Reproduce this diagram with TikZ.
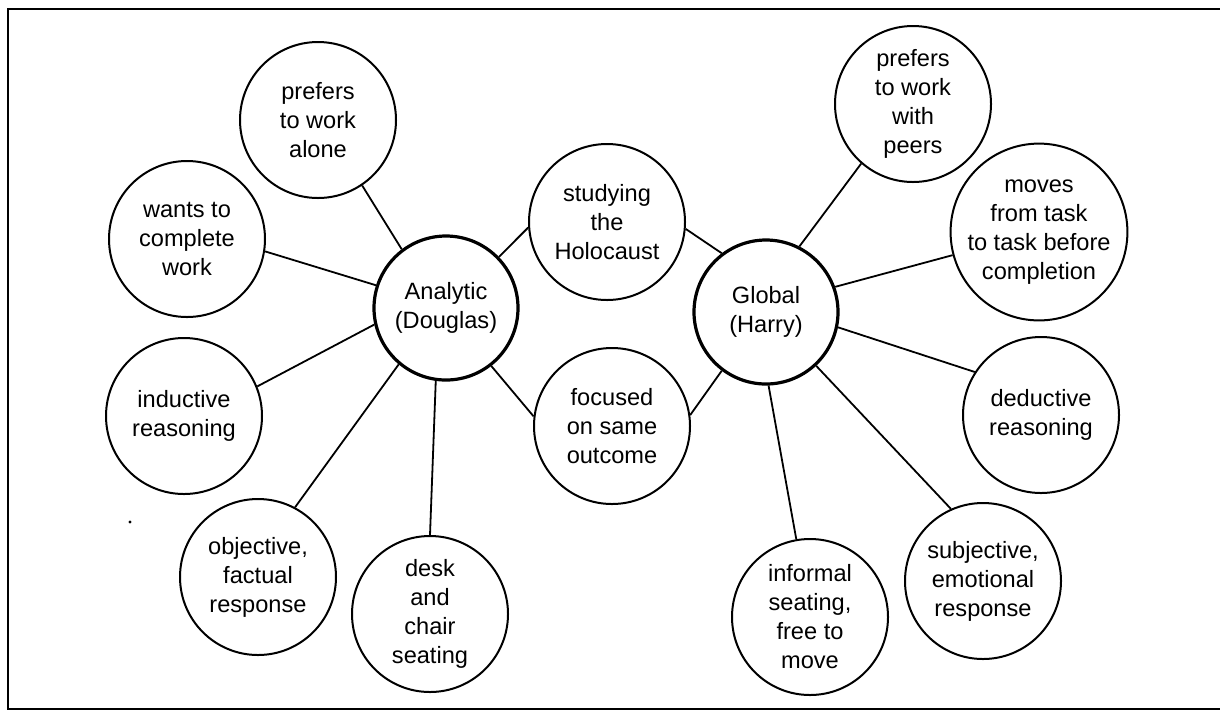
\documentclass[tikz,border=0pt]{standalone}
\usepackage{fontspec}
\setmainfont{Liberation Sans}
\begin{document}
\begin{tikzpicture}[x=0.5pt,y=-0.5pt,
  sat/.style={circle, draw, line width=1pt, minimum size=78pt, inner sep=0pt, align=center,
    font=\fontsize{11.8}{14.5}\selectfont},
  hub/.style={sat, line width=1.6pt, minimum size=72pt},
  link/.style={line width=0.9pt},
  frame/.style={line width=1.4pt}]
\useasboundingbox (0,0) rectangle (1220,714);
\draw[frame] (1220,9) -- (8,9) -- (8,709) -- (1220,709);
\node[hub] (A) at (446,308) {Analytic\\(Douglas)};
\node[hub] (G) at (766,312) {Global\\(Harry)};
\node[sat] (alone) at (318,120) {prefers\\to work\\alone};
\node[sat] (complete) at (187,239) {wants to\\complete\\work};
\node[sat] (induct) at (184,416) {inductive\\reasoning};
\node[sat] (object) at (258,577) {objective,\\factual\\response};
\node[sat] (desk) at (430,614) {desk\\and\\chair\\seating};
\node[sat] (study) at (607,222) {studying\\the\\Holocaust};
\node[sat] (focus) at (612,426) {focused\\on same\\outcome};
\node[sat] (peers) at (913,104) {prefers\\to work\\with\\peers};
\node[sat, minimum size=86pt] (moves) at (1039,232) {moves\\from task\\to task before\\completion};
\node[sat] (deduct) at (1041,415) {deductive\\reasoning};
\node[sat] (subj) at (983,581) {subjective,\\emotional\\response};
\node[sat] (inform) at (810,617) {informal\\seating,\\free to\\move};
\draw[link] (A.127) -- (alone.-56);
\draw[link] (A.162) -- (complete.-9);
\draw[link] (A.193) -- (induct.22);
\draw[link] (A.230) -- (object.62);
\draw[link] (A.262) -- (desk.90);
\draw[link] (A.-52) -- (focus.173);
\draw[link] (A.44) -- (study.184);
\draw[link] (G.127) -- (study.-5);
\draw[link] (G.233) -- (focus.8);
\draw[link] (G.63) -- (peers.229);
\draw[link] (G.20) -- (moves.195);
\draw[link] (G.-12) -- (deduct.147);
\draw[link] (G.-47) -- (subj.114);
\draw[link] (G.-88) -- (inform.100);
\fill (130,522) circle (0.8pt);
\end{tikzpicture}
\end{document}
